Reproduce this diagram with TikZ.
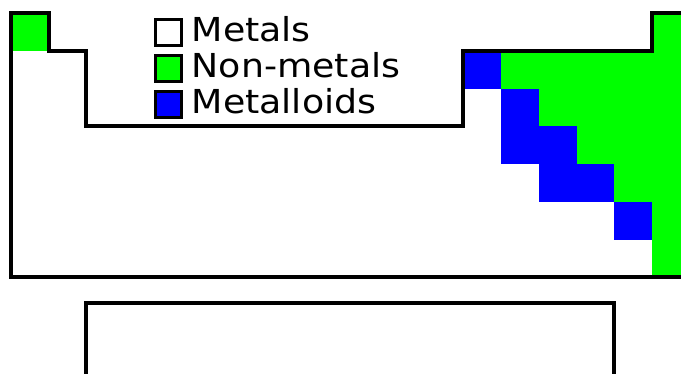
\documentclass[tikz,border=0pt]{standalone}
\usepackage{fontspec}
\newfontfamily\legendfont{DejaVu Sans}[FakeStretch=1.1]
\definecolor{nonmetal}{RGB}{0,255,0}
\definecolor{metalloid}{RGB}{0,0,255}
\tikzset{
  outline/.style={line width=4pt, line join=miter},
  nmfill/.style={fill=nonmetal},
  mlfill/.style={fill=metalloid},
  keybox/.style={draw=black, line width=3.2pt, minimum size=26pt, inner sep=0pt, anchor=north west},
  keytext/.style={anchor=base west, inner sep=0pt, font=\legendfont\fontsize{33}{36}\selectfont},
}
\begin{document}
\begin{tikzpicture}[x=1pt,y=-1pt]
\useasboundingbox (0,0) rectangle (681,373);
\clip (0,0) rectangle (681,373);
\begin{scope}[shift={(11,13.3)}, x=37.7pt, y=-37.7pt]
  % non-metals
  \fill[nmfill] (0,0) rectangle (1,1);
  \fill[nmfill] (17,0) rectangle (18,1);
  \fill[nmfill] (13,1) rectangle (18,2);
  \fill[nmfill] (14,2) rectangle (18,3);
  \fill[nmfill] (15,3) rectangle (18,4);
  \fill[nmfill] (16,4) rectangle (18,5);
  \fill[nmfill] (17,5) rectangle (18,7);
  % metalloids
  \fill[mlfill] (12,1) rectangle (13,2);
  \fill[mlfill] (13,2) rectangle (14,3);
  \fill[mlfill] (13,3) rectangle (15,4);
  \fill[mlfill] (14,4) rectangle (16,5);
  \fill[mlfill] (16,5) rectangle (17,6);
  % main table outline
  \draw[outline] (0,7) -- (0,0) -- (1,0) -- (1,1) -- (2,1) -- (2,3) -- (12,3)
    -- (12,1) -- (17,1) -- (17,0) -- (18,0) -- (18,7) -- cycle;
  % lanthanide / actinide block
  \draw[outline] (2,7.68) rectangle (16,10.5);
\end{scope}
% legend
\node[keybox, fill=white]     (kmetal) at (154,17.8) {};
\node[keybox, fill=nonmetal]  (knon)   at (154,53.8) {};
\node[keybox, fill=metalloid] (kmld)   at (154,89.8) {};
\node[keytext] (tmetal) at (191.5,41.3)  {Metals};
\node[keytext] (tnon)   at (191.5,77.3)  {Non-metals};
\node[keytext] (tmld)   at (191.5,113.3) {Metalloids};
\end{tikzpicture}
\end{document}
